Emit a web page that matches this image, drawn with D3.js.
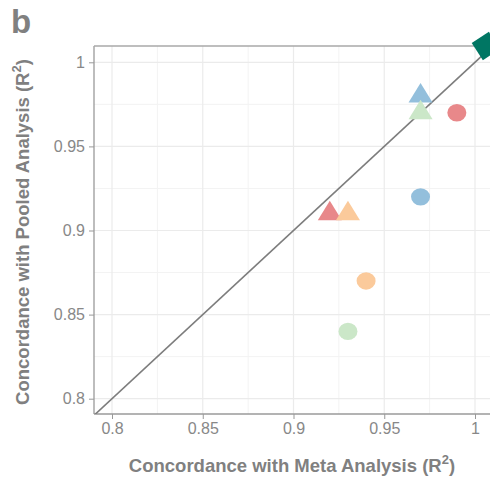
<!DOCTYPE html>
<html><head><meta charset="utf-8">
<script src="https://cdn.jsdelivr.net/npm/d3@7/dist/d3.min.js"></script>
<style>body{margin:0;background:#fff}svg{display:block;font-family:"Liberation Sans",Arial,sans-serif}</style>
</head><body><svg id="c" width="490" height="486"></svg>
<script>
const metaR2   = [0.97, 0.97, 0.99, 0.97, 0.92, 0.93, 0.94, 0.93];
const pooledR2 = [0.98, 0.97, 0.97, 0.92, 0.91, 0.91, 0.87, 0.84];
const shapes   = ["triangle","triangle","circle","circle","triangle","triangle","circle","circle"];
const colors   = ["#93bfdc","#cbe7c8","#e8888a","#93bfdc","#e8888a","#fbca9b","#fbca9b","#cbe7c8"];
const refPoint = {x: 1.006, y: 1.0097};
const tickVals = [0.8, 0.85, 0.9, 0.95, 1];
const tickLabels = ["0.8","0.85","0.9","0.95","1"];
const minorVals = [0.825, 0.875, 0.925, 0.975];

const svg = d3.select("#c");
const x = d3.scaleLinear().domain([0.79, 1.02]).range([93.85, 93.85 + 0.23*1815]);
const y = d3.scaleLinear().domain([0.8, 1]).range([398.7, 62.3]);
const L = 94, T = 46, B = 414, R = 520;

svg.append("clipPath").attr("id","clip").append("rect").attr("x",L).attr("y",T).attr("width",R-L).attr("height",B-T);

const g = svg.append("g");
g.selectAll(".gmx").data(minorVals).join("line").attr("x1",d=>x(d)).attr("x2",d=>x(d)).attr("y1",T).attr("y2",B).attr("stroke","#f3f3f3").attr("stroke-width",1);
g.selectAll(".gmy").data(minorVals).join("line").attr("y1",d=>y(d)).attr("y2",d=>y(d)).attr("x1",L).attr("x2",R).attr("stroke","#f3f3f3").attr("stroke-width",1);
g.selectAll(".gx").data(tickVals).join("line").attr("x1",d=>x(d)).attr("x2",d=>x(d)).attr("y1",T).attr("y2",B).attr("stroke","#ebebeb").attr("stroke-width",1.2);
g.selectAll(".gy").data(tickVals).join("line").attr("y1",d=>y(d)).attr("y2",d=>y(d)).attr("x1",L).attr("x2",R).attr("stroke","#ebebeb").attr("stroke-width",1.2);

const xa = d3.axisBottom(x).tickValues(tickVals).tickFormat((d,i)=>tickLabels[i]).tickSize(5).tickPadding(4);
const ya = d3.axisLeft(y).tickValues(tickVals).tickFormat((d,i)=>tickLabels[i]).tickSize(5).tickPadding(4);
const gx = svg.append("g").attr("transform",`translate(0,${B})`).call(xa);
const gy = svg.append("g").attr("transform",`translate(${L},0)`).call(ya);
[gx,gy].forEach(a=>{
  a.select(".domain").remove();
  a.selectAll(".tick line").attr("stroke","#999");
  a.selectAll(".tick text").attr("fill","#888").style("font-size","16px");
});
svg.append("line").attr("x1",L).attr("x2",L).attr("y1",T).attr("y2",B).attr("stroke","#9a9a9a").attr("stroke-width",1.3);
svg.append("line").attr("x1",L).attr("x2",R).attr("y1",B).attr("y2",B).attr("stroke","#9a9a9a").attr("stroke-width",1.3);
svg.append("line").attr("x1",L).attr("x2",R).attr("y1",T).attr("y2",T).attr("stroke","#a8a8a8").attr("stroke-width",1.3);

svg.append("line").attr("clip-path","url(#clip)")
  .attr("x1",x(0.79)).attr("y1",y(0.79)).attr("x2",x(1.005)).attr("y2",y(1.005))
  .attr("stroke","#7d7d7d").attr("stroke-width",1.6);

const pts = metaR2.map((m,i)=>({x:m,y:pooledR2[i],s:shapes[i],c:colors[i]}));
const tri = d3.symbol().type(d3.symbolTriangle).size(250);
svg.selectAll(".pt").data(pts).join(enter=>enter.append("g"))
  .attr("transform",d=>`translate(${x(d.x)},${y(d.y)})`)
  .each(function(d){
    const s = d3.select(this);
    if(d.s==="circle") s.append("ellipse").attr("rx",9.5).attr("ry",8.7).attr("fill",d.c);
    else s.append("path").attr("d",tri()).attr("transform","scale(1,0.93)").attr("fill",d.c);
  });

svg.append("path").attr("d",d3.symbol().type(d3.symbolSquare).size(420)())
  .attr("transform",`translate(${x(refPoint.x)},${y(refPoint.y)}) rotate(57)`)
  .attr("fill","#007663");

svg.append("text").attr("x",292).attr("y",472).attr("text-anchor","middle")
  .attr("fill","#808080").style("font-size","18.5px").style("font-weight","bold")
  .html('Concordance with Meta Analysis (R<tspan dy="-8" font-size="13">2</tspan><tspan dy="8">)</tspan>');
svg.append("text").attr("transform",`translate(29,232) rotate(-90)`).attr("text-anchor","middle")
  .attr("fill","#808080").style("font-size","18.5px").style("font-weight","bold")
  .html('Concordance with Pooled Analysis (R<tspan dy="-8" font-size="13">2</tspan><tspan dy="8">)</tspan>');
svg.append("text").attr("x",11).attr("y",33).attr("fill","#808080")
  .style("font-size","33px").style("font-weight","bold").text("b");
</script></body></html>
